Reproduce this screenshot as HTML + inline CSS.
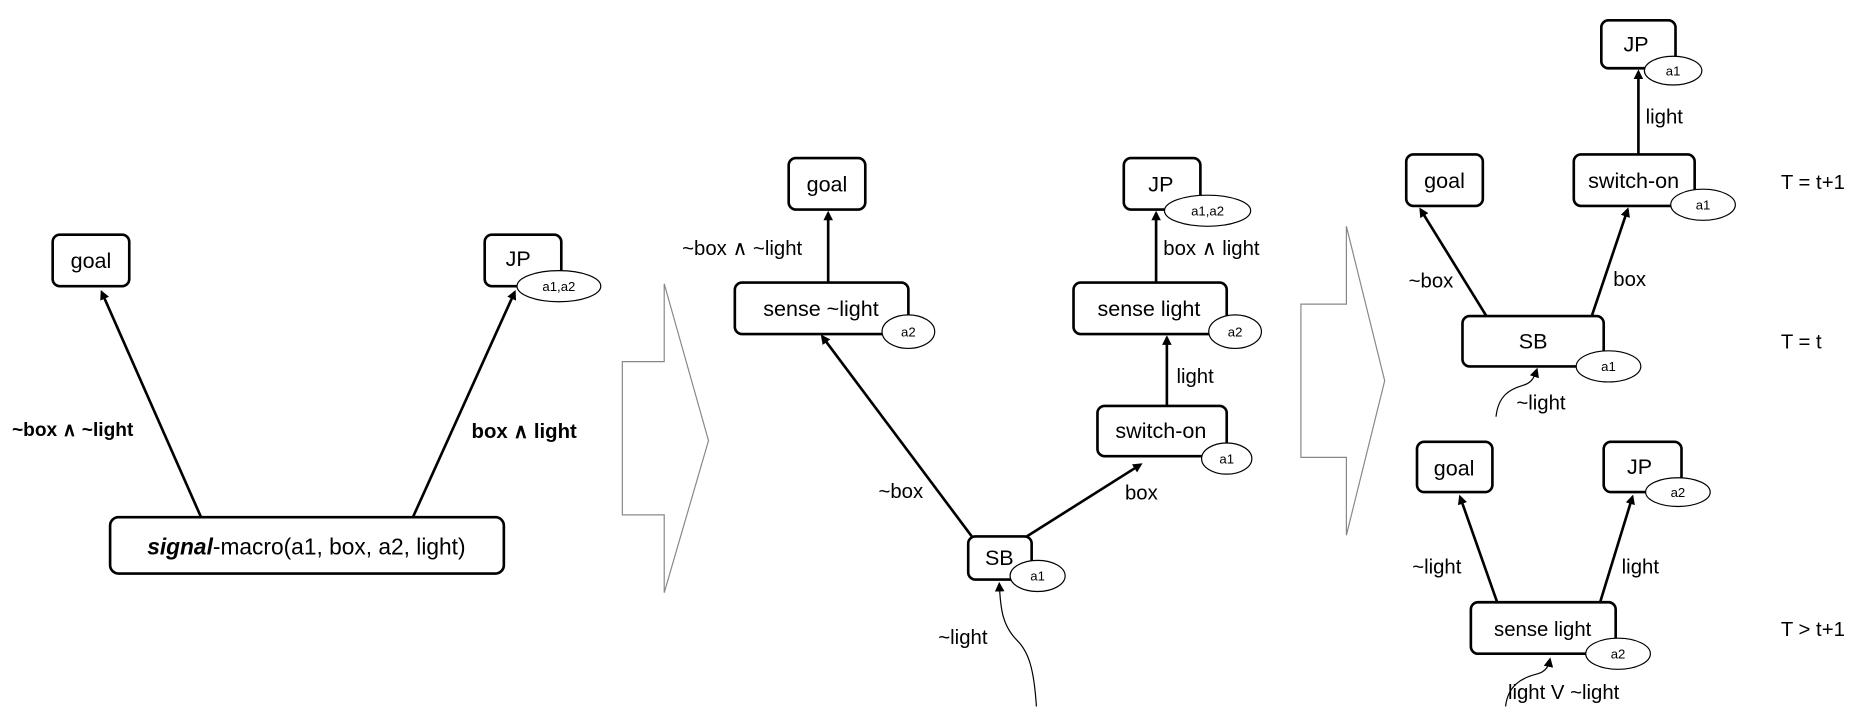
<!DOCTYPE html>
<html><head><meta charset="utf-8"><style>
html,body{margin:0;padding:0;background:#fff;}
svg{display:block;}
text{font-family:"Liberation Sans",sans-serif;fill:#000;}
.n{fill:#fff;stroke:#000;stroke-width:2.2;}
.e{fill:#fff;stroke:#000;stroke-width:1;}
.a{stroke:#000;stroke-width:2.2;fill:none;marker-end:url(#ah);}
.c{stroke:#000;stroke-width:1;fill:none;marker-end:url(#ah2);}
.t{font-size:18px;text-anchor:middle;}
.s{font-size:11px;text-anchor:middle;}
.l{font-size:17px;}
</style></head><body>
<svg width="1867" height="716" viewBox="0 0 1560 598" preserveAspectRatio="none" xmlns="http://www.w3.org/2000/svg">
<defs>
<marker id="ah" markerWidth="8" markerHeight="8" refX="6" refY="4" orient="auto" markerUnits="userSpaceOnUse"><path d="M0,0 L8,4 L0,8 z" fill="#000"/></marker>
<marker id="ah2" markerWidth="8" markerHeight="8" refX="6" refY="4" orient="auto" markerUnits="userSpaceOnUse"><path d="M0,0 L8,4 L0,8 z" fill="#000"/></marker>
</defs>

<!-- LEFT PANEL -->
<line class="a" x1="168" y1="432" x2="85" y2="244"/>
<line class="a" x1="345" y1="432" x2="430" y2="244"/>
<rect class="n" x="44" y="196" width="64" height="43" rx="6"/>
<text class="t" x="76" y="224">goal</text>
<rect class="n" x="405" y="196" width="64" height="43" rx="6"/>
<text class="t" x="433" y="222">JP</text>
<ellipse class="e" cx="467" cy="239" rx="35" ry="13"/>
<text class="s" x="467" y="243">a1,a2</text>
<rect class="n" x="92" y="432" width="329" height="47" rx="7"/>
<text class="t" x="256" y="463" style="font-size:19px"><tspan font-weight="bold" font-style="italic">signal</tspan>-macro(a1, box, a2, light)</text>
<text class="l" x="10" y="364" font-weight="bold" style="font-size:16px">~box ∧ ~light</text>
<text class="l" x="394" y="366" font-weight="bold">box ∧ light</text>

<!-- ARROW 1 -->
<polygon points="520,302 555,302 555,237 592,368 555,495 555,430 520,430" fill="#fff" stroke="#888" stroke-width="1"/>

<!-- MIDDLE PANEL -->
<line class="a" x1="692" y1="236" x2="692" y2="178"/>
<line class="a" x1="966" y1="236" x2="966" y2="178"/>
<line class="a" x1="975" y1="339" x2="975" y2="282"/>
<line class="a" x1="812" y1="448" x2="687" y2="281"/>
<line class="a" x1="858" y1="448" x2="953" y2="388"/>
<path class="c" d="M866,590 C864,560 860,545 850,535 C838,523 836,510 835,488"/>

<rect class="n" x="659" y="132" width="64" height="43" rx="6"/>
<text class="t" x="691" y="160">goal</text>
<rect class="n" x="614" y="236" width="145" height="43" rx="6"/>
<text class="t" x="686" y="264">sense ~light</text>
<ellipse class="e" cx="759" cy="277" rx="22" ry="14"/>
<text class="s" x="759" y="281">a2</text>

<rect class="n" x="939" y="132" width="64" height="43" rx="6"/>
<text class="t" x="970" y="160">JP</text>
<ellipse class="e" cx="1009" cy="176" rx="36" ry="13"/>
<text class="s" x="1009" y="180">a1,a2</text>

<rect class="n" x="897" y="236" width="128" height="43" rx="6"/>
<text class="t" x="960" y="264">sense light</text>
<ellipse class="e" cx="1032" cy="277" rx="22" ry="14"/>
<text class="s" x="1032" y="281">a2</text>

<rect class="n" x="917" y="339" width="108" height="42" rx="6"/>
<text class="t" x="970" y="366">switch-on</text>
<ellipse class="e" cx="1025" cy="383" rx="21" ry="13"/>
<text class="s" x="1025" y="387">a1</text>

<rect class="n" x="809" y="448" width="53" height="36" rx="6"/>
<text class="t" x="835" y="472">SB</text>
<ellipse class="e" cx="867" cy="481" rx="23" ry="13"/>
<text class="s" x="867" y="485">a1</text>

<text class="l" x="570" y="213">~box ∧ ~light</text>
<text class="l" x="972" y="213">box ∧ light</text>
<text class="l" x="983" y="320">light</text>
<text class="l" x="734" y="416">~box</text>
<text class="l" x="940" y="417">box</text>
<text class="l" x="784" y="538">~light</text>

<!-- ARROW 2 -->
<polygon points="1087,254 1125,254 1125,189 1157,318 1125,447 1125,382 1087,382" fill="#fff" stroke="#888" stroke-width="1"/>

<!-- RIGHT PANEL TOP -->
<line class="a" x1="1369" y1="129" x2="1369" y2="60"/>
<line class="a" x1="1242" y1="264" x2="1187" y2="175"/>
<line class="a" x1="1330" y1="264" x2="1360" y2="175"/>
<path class="c" d="M1250,348 C1252,330 1262,325 1272,322 C1280,320 1282,315 1284,309"/>

<rect class="n" x="1338" y="17" width="62" height="40" rx="6"/>
<text class="t" x="1367" y="43">JP</text>
<ellipse class="e" cx="1398" cy="59" rx="24" ry="12"/>
<text class="s" x="1398" y="63">a1</text>

<rect class="n" x="1175" y="129" width="64" height="43" rx="6"/>
<text class="t" x="1207" y="157">goal</text>

<rect class="n" x="1315" y="129" width="101" height="43" rx="6"/>
<text class="t" x="1365" y="157">switch-on</text>
<ellipse class="e" cx="1423" cy="171" rx="27" ry="13"/>
<text class="s" x="1423" y="175">a1</text>

<rect class="n" x="1222" y="264" width="118" height="42" rx="6"/>
<text class="t" x="1281" y="291">SB</text>
<ellipse class="e" cx="1344" cy="306" rx="27" ry="13"/>
<text class="s" x="1344" y="310">a1</text>

<text class="l" x="1375" y="103">light</text>
<text class="l" x="1177" y="240">~box</text>
<text class="l" x="1348" y="239">box</text>
<text class="l" x="1267" y="342">~light</text>

<text class="l" x="1488" y="158">T = t+1</text>
<text class="l" x="1488" y="291">T = t</text>
<text class="l" x="1488" y="531">T &gt; t+1</text>

<!-- RIGHT PANEL BOTTOM -->
<line class="a" x1="1251" y1="503" x2="1220" y2="415"/>
<line class="a" x1="1337" y1="503" x2="1364" y2="415"/>
<path class="c" d="M1258,590 C1260,572 1272,566 1284,563 C1292,561 1294,556 1295,551"/>

<rect class="n" x="1184" y="369" width="63" height="42" rx="6"/>
<text class="t" x="1215" y="397">goal</text>
<rect class="n" x="1340" y="369" width="65" height="42" rx="6"/>
<text class="t" x="1370" y="396">JP</text>
<ellipse class="e" cx="1402" cy="411" rx="27" ry="12"/>
<text class="s" x="1402" y="415">a2</text>

<rect class="n" x="1229" y="503" width="121" height="43" rx="6"/>
<text class="t" x="1289" y="531" style="font-size:17px">sense light</text>
<ellipse class="e" cx="1352" cy="546" rx="27" ry="13"/>
<text class="s" x="1352" y="550">a2</text>

<text class="l" x="1180" y="479">~light</text>
<text class="l" x="1355" y="479">light</text>
<text class="l" x="1260" y="584">light V ~light</text>
</svg>
</body></html>
